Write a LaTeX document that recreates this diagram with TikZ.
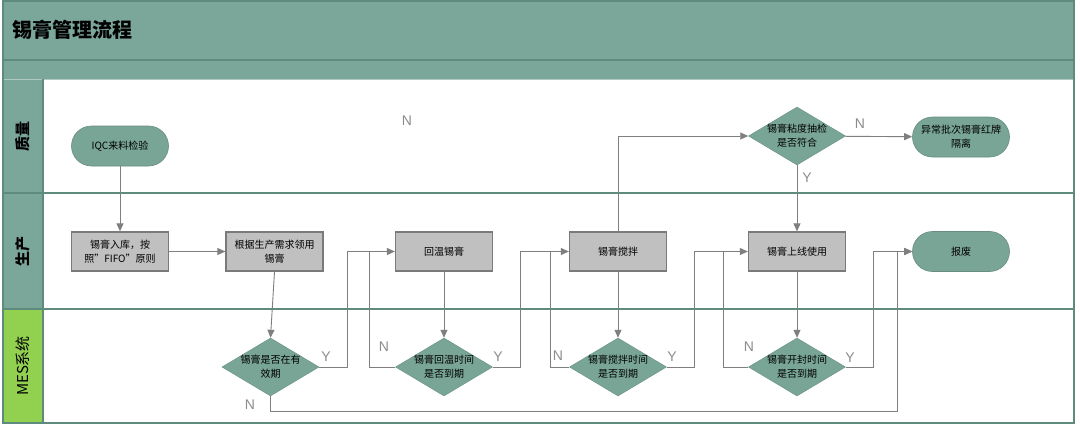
\documentclass[tikz,border=0pt]{standalone}
\usepackage{fontspec}
\setmainfont{Noto Sans CJK SC}
\newfontfamily\latinsans{Liberation Sans}
\usetikzlibrary{arrows.meta,positioning,calc,shapes.geometric}

\definecolor{laneteal}{HTML}{7BA69A}
\definecolor{laneline}{HTML}{5F8B7F}
\definecolor{mesgreen}{HTML}{92D050}
\definecolor{nodeteal}{HTML}{79A597}
\definecolor{boxgray}{HTML}{C0C0C0}
\definecolor{boxedge}{HTML}{7A7A7A}
\definecolor{flowgray}{HTML}{7F7F7F}
\definecolor{labelgray}{HTML}{8C8C8C}

\begin{document}
\begin{tikzpicture}[x=1pt, y=-1pt,
    % --- 樣式設定 ---
    node text/.style={font=\fontsize{10}{14}\selectfont, align=center},
    task/.style={node text, draw=boxedge, line width=1.3pt, fill=boxgray, rectangle, minimum width=97pt, minimum height=39pt, inner sep=1pt},
    terminal/.style={node text, draw=nodeteal!85!black, line width=0.6pt, fill=nodeteal, rectangle, rounded corners=20pt, minimum width=97pt, minimum height=40pt, inner sep=1pt},
    % 菱形只畫外形,文字另放 (避免菱形被文字撐大)
    decision/.style={diamond, draw=nodeteal!90!black, line width=0.5pt, fill=nodeteal, minimum width=97pt, minimum height=58pt, inner sep=0pt},
    % 流程線
    flow/.style={draw=flowgray, line width=0.9pt, -{Triangle[length=8pt, width=7pt]}},
    link/.style={draw=flowgray, line width=0.9pt},
    yn/.style={font=\latinsans\fontsize{14}{14}\selectfont, text=labelgray},
    lane label/.style={rotate=90, font=\fontsize{15}{15}\selectfont},
    lane edge/.style={draw=laneline, line width=1.5pt}
]
    \useasboundingbox (0,0) rectangle (1080,431);

    % --- 1. 泳道框架 ---
    \fill[white] (3,1) rectangle (1074,423);
    \fill[laneteal] (3,1) rectangle (1074,79);
    \fill[laneteal] (3,79) rectangle (43,309);
    \fill[mesgreen] (3,309) rectangle (43,423);
    \draw[lane edge] (3,60) -- (1074,60);
    \draw[draw=laneteal!60, line width=1pt] (3,79) -- (1074,79);
    \draw[lane edge] (3,193) -- (1074,193);
    \draw[lane edge] (3,309) -- (1074,309);
    \draw[lane edge] (43,79) -- (43,423);
    \draw[lane edge] (3,1) rectangle (1074,423);

    \node[anchor=west, font=\bfseries\fontsize{20}{20}\selectfont] (title) at (9,30) {锡膏管理流程};
    \node[lane label, font=\bfseries\fontsize{15}{15}\selectfont] (lane_qa) at (23,136) {质量};
    \node[lane label, font=\bfseries\fontsize{15}{15}\selectfont] (lane_prod) at (23,251) {生产};
    \node[lane label] (lane_mes) at (23,366) {MES系统};

    % --- 2. 節點 ---
    % 质量
    \node[terminal] (iqc) at (120,146) {IQC来料检验};
    \node[decision] (viscosity) at (797,136) {};
    \node[node text] at (viscosity) {锡膏粘度抽检\\是否符合};
    \node[terminal] (isolate) at (961,137) {异常批次锡膏红牌\\隔离};
    \node[yn] (n_stray) at (407,121) {N};

    % 生产
    \node[task] (storage) at (120,251.5) {锡膏入库，按\\照”FIFO”原则};
    \node[task] (request) at (274.5,251.5) {根据生产需求领用\\锡膏};
    \node[task] (warmup) at (444,251.5) {回温锡膏};
    \node[task] (stir) at (618,251.5) {锡膏搅拌};
    \node[task] (online) at (797,251.5) {锡膏上线使用};
    \node[terminal] (scrap) at (961,251.5) {报废};

    % MES系统
    \node[decision] (d_valid) at (270.5,367) {};
    \node[node text] at (d_valid) {锡膏是否在有\\效期};
    \node[decision] (d_warm) at (444,367) {};
    \node[node text] at (d_warm) {锡膏回温时间\\是否到期};
    \node[decision] (d_stir) at (618,367) {};
    \node[node text] at (d_stir) {锡膏搅拌时间\\是否到期};
    \node[decision] (d_open) at (797,367) {};
    \node[node text] at (d_open) {锡膏开封时间\\是否到期};

    % --- 3. 流程線 ---
    \draw[flow] (iqc) -- (storage);
    \draw[flow] (storage) -- (request);
    \draw[flow] (request.south) -- (d_valid.north);

    % 有效期判断
    \draw[flow] (d_valid.east) -- ++(28,0) |- (warmup.west);
    \draw[flow] (d_valid.south) -- ++(0,15) -| ($(scrap.west)+(-15,0)$) -- (scrap.west);

    % 回温
    \draw[flow] (warmup) -- (d_warm);
    \draw[link] (d_warm.west) -| ($(warmup.west)+(-25,0)$);
    \draw[flow] (d_warm.east) -- ++(28,0) |- (stir.west);

    % 搅拌
    \draw[flow] (stir.north) |- (viscosity.west);
    \draw[flow] (stir) -- (d_stir);
    \draw[link] (d_stir.west) -| ($(stir.west)+(-18,0)$);
    \draw[flow] (d_stir.east) -- ++(28,0) |- (online.west);

    % 粘度抽检
    \draw[flow] (viscosity) -- (isolate);
    \draw[flow] (viscosity) -- (online);

    % 上线使用
    \draw[flow] (online) -- (d_open);
    \draw[link] (d_open.west) -| ($(online.west)+(-24,0)$);
    \draw[flow] (d_open.east) -| ($(scrap.west)+(-39,0)$) -- (scrap.west);

    % --- 4. Y / N 标记 ---
    \node[yn] at (326,357) {Y};
    \node[yn] at (250,405) {N};
    \node[yn] at (384,347) {N};
    \node[yn] at (498,357) {Y};
    \node[yn] at (558,356) {N};
    \node[yn] at (672,357) {Y};
    \node[yn] at (749,347) {N};
    \node[yn] at (850,358) {Y};
    \node[yn] at (860,124) {N};
    \node[yn] at (807,178) {Y};

\end{tikzpicture}
\end{document}
